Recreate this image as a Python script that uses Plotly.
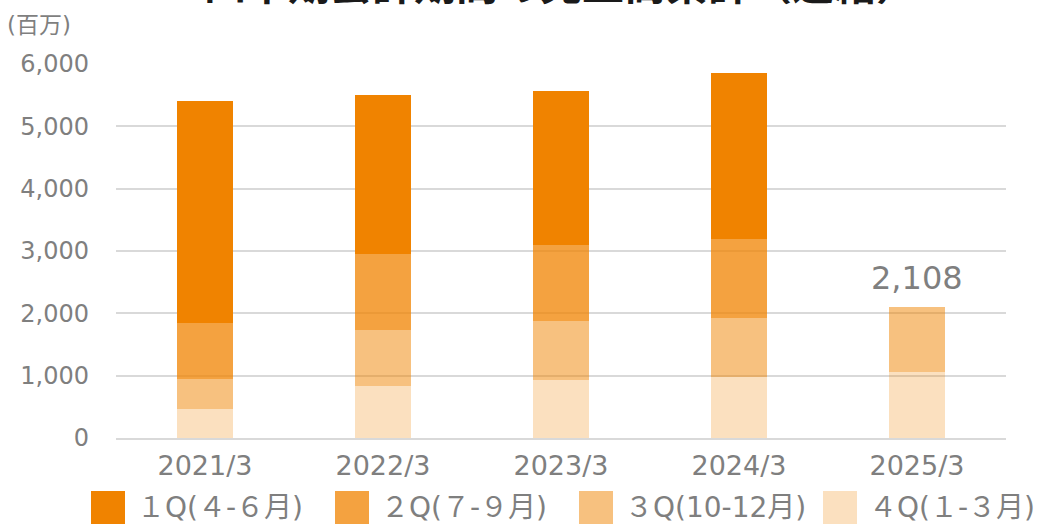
import plotly.graph_objects as go

categories = ["2021/3", "2022/3", "2023/3", "2024/3", "2025/3"]
# series drawn bottom-to-top in the stack
q4_vals = [465, 838, 923, 971, 1057]
q3_vals = [474, 887, 952, 962, 1051]
q2_vals = [909, 1224, 1218, 1261, None]
q1_vals = [3552, 2548, 2468, 2665, None]

legend_names = ["１Q(４-６月)", "２Q(７-９月)", "３Q(10-12月)", "４Q(１-３月)"]
title_text = "四半期会計期間の売上高累計（連結）"
unit_text = "(百万)"
y_ticks = [0, 1000, 2000, 3000, 4000, 5000, 6000]

base = "240,131,0"
alphas = [1.0, 0.75, 0.5, 0.25]  # 1Q,2Q,3Q,4Q
colors = [f"rgba({base},{a})" for a in alphas]

FONT = "DejaVu Sans, Noto Sans CJK JP, sans-serif"
GRAY = "#7F7F7F"

fig = go.Figure()
stack = [(q4_vals, legend_names[3], colors[3]),
         (q3_vals, legend_names[2], colors[2]),
         (q2_vals, legend_names[1], colors[1]),
         (q1_vals, legend_names[0], colors[0])]
for vals, name, col in stack:
    fig.add_trace(go.Bar(x=categories, y=vals, name=name,
                         marker=dict(color=col, line=dict(width=0)),
                         showlegend=False))

W, H = 1055, 525
ml, mr, mt, mb = 116, 49, 64, 87
pw, ph = W - ml - mr, H - mt - mb

def px_x(x):
    return (x - ml) / pw

def px_y(y):
    return (H - mb - y) / ph

shapes = []
annotations = []
# custom legend
for i, (name, col) in enumerate(zip(legend_names, colors)):
    x0 = 91 + i * 244
    shapes.append(dict(type="rect", xref="paper", yref="paper",
                       x0=px_x(x0), x1=px_x(x0 + 34), y0=px_y(524), y1=px_y(491),
                       fillcolor=col, line=dict(width=0), layer="above"))
    annotations.append(dict(xref="paper", yref="paper", x=px_x(x0 + 44), y=px_y(507),
                            xanchor="left", yanchor="middle", text=name, showarrow=False,
                            font=dict(family=FONT, size=28, color=GRAY)))

# total label for latest year
total_last = sum(v for v in (q4_vals[-1], q3_vals[-1], q2_vals[-1], q1_vals[-1]) if v)
annotations.append(dict(x=categories[-1], y=total_last, xref="x", yref="y",
                        text=f"{total_last:,}", showarrow=False, yanchor="bottom",
                        yshift=8, font=dict(family=FONT, size=32, color=GRAY)))

# unit label
annotations.append(dict(xref="paper", yref="paper", x=px_x(5), y=px_y(25),
                        xanchor="left", yanchor="middle", text=unit_text, showarrow=False,
                        font=dict(family=FONT, size=23, color=GRAY)))

# title (partially above the visible area)
annotations.append(dict(xref="paper", yref="paper", x=px_x(561), y=px_y(14),
                        xanchor="center", yanchor="bottom", text=f"<b>{title_text}</b>",
                        showarrow=False,
                        font=dict(family="Noto Sans CJK JP", size=42, color="#1a1a1a")))

fig.update_layout(
    width=W, height=H,
    margin=dict(l=ml, r=mr, t=mt, b=mb, pad=0),
    barmode="stack", bargap=0.685,
    plot_bgcolor="white", paper_bgcolor="white",
    showlegend=False,
    shapes=shapes, annotations=annotations,
    font=dict(family=FONT, color=GRAY),
)
fig.update_yaxes(range=[0, 6000], tickvals=y_ticks, tickformat=",",
                 showgrid=True, gridcolor="#D9D9D9", gridwidth=1.5,
                 zeroline=False, showline=False, ticks="",
                 ticklabelstandoff=26,
                 tickfont=dict(family=FONT, size=24, color=GRAY))
fig.update_xaxes(showline=True, linecolor="#D9D9D9", linewidth=1.5, ticks="",
                 ticklabelstandoff=3,
                 tickfont=dict(family=FONT, size=27, color=GRAY))

fig.write_html("out.html", config={"displayModeBar": False},
               post_script="document.body.style.margin='0';document.body.style.overflow='hidden';")
